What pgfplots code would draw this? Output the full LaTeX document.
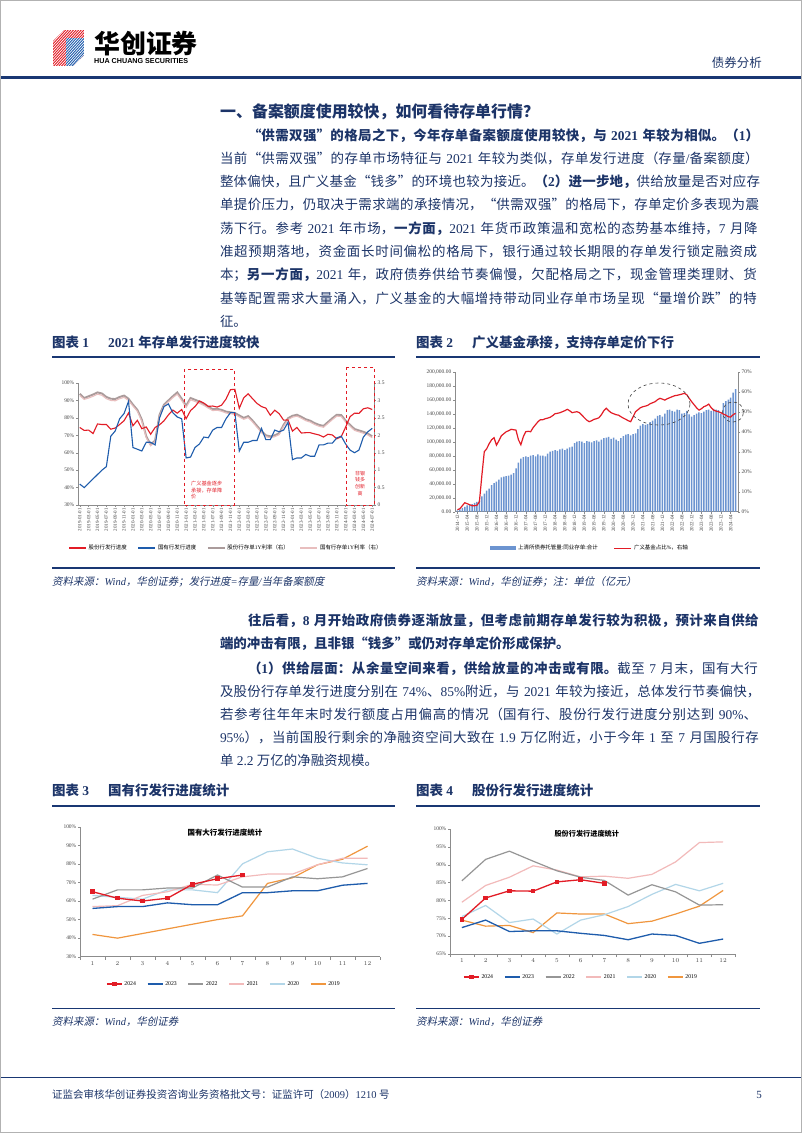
\documentclass[border=0pt]{standalone}
\usepackage{fontspec}
\setmainfont{Liberation Serif}
\newfontfamily\cjk{Noto Sans CJK SC}[AutoFakeSlant=0.2]
\newfontfamily\lsans{Liberation Sans}
\usepackage{pgfplots}
\pgfplotsset{compat=1.18}
\usepackage{pgfplotstable}

% automatic switching between Latin and CJK fonts
\XeTeXinterchartokenstate=1
\newXeTeXintercharclass\CJKc
\newcount\cjkcnt
\def\cjkrange#1#2{\cjkcnt=#1\relax\loop\XeTeXcharclass\cjkcnt=\CJKc\relax\ifnum\cjkcnt<#2\relax\advance\cjkcnt by 1\relax\repeat}
\cjkrange{"4E00}{"9FFF}
\cjkrange{"3000}{"303F}
\cjkrange{"FF00}{"FFEF}
\cjkrange{"2018}{"201D}
\XeTeXinterchartoks 0 \CJKc = {\cjk}
\XeTeXinterchartoks 4095 \CJKc = {\cjk}
\XeTeXinterchartoks \CJKc 0 = {\rmfamily}
\XeTeXinterchartoks \CJKc 4095 = {\rmfamily}
\XeTeXlinebreaklocale "zh"
\XeTeXlinebreakskip=0pt plus 4pt

\definecolor{tb}{RGB}{28,52,104}
\definecolor{rulec}{RGB}{25,55,115}
\definecolor{cred}{RGB}{226,28,38}
\definecolor{cblue}{RGB}{30,92,172}
\definecolor{cgray}{RGB}{170,155,155}
\definecolor{cpink}{RGB}{232,190,190}
\definecolor{c22}{RGB}{150,150,150}
\definecolor{c21}{RGB}{242,186,186}
\definecolor{c20}{RGB}{178,214,232}
\definecolor{c19}{RGB}{240,150,62}
\definecolor{cbar}{RGB}{108,148,208}
\definecolor{axg}{RGB}{140,140,140}
\definecolor{lblg}{RGB}{70,70,70}

\pgfplotstableread{
m blue red gray pink
0 42 74.5 3.19 3.14
1 40 72.8 3.07 3.03
2 42.5 73 3.12 3.07
3 45 71 3.17 3.12
4 47.5 76.5 3.23 3.18
5 50 76.2 3.20 3.15
6 52 76.2 3.10 3.05
7 69.5 73.5 3.05 3.00
8 72.5 74.2 3.04 2.99
9 79.5 76.2 3.10 3.05
10 82.5 78.4 3.14 3.09
11 89.5 82.8 3.05 3.00
12 63 75.5 2.88 2.84
13 62 78.6 2.73 2.69
14 61 73.8 2.45 2.40
15 66 74.8 1.97 1.93
16 66 70.6 1.73 1.70
17 64.5 74.5 1.85 1.82
18 80 76 2.59 2.55
19 86.5 78.3 2.88 2.84
20 88 81.7 3.00 2.96
21 83 84.5 3.12 3.08
22 80.5 82.7 3.23 3.18
23 79.5 84.8 3.05 3.00
24 57 79.5 2.85 2.80
25 57.5 84.2 3.07 3.02
26 63 86.5 3.02 2.97
27 65 89.7 2.97 2.92
28 69 88.5 2.90 2.86
29 68.6 86.6 2.82 2.78
30 73 86.8 2.75 2.71
31 74.5 86.2 2.76 2.72
32 74.5 87.3 2.73 2.69
33 79.5 90.8 2.68 2.64
34 83 96.2 2.66 2.62
35 83 96.4 2.64 2.60
36 61 85.5 2.57 2.53
37 66 91.5 2.50 2.46
38 66 93.8 2.55 2.51
39 67 91 2.42 2.38
40 67 88.3 2.27 2.23
41 74 86.5 2.12 2.08
42 67.5 85.6 2.00 1.96
43 67.5 81.5 1.97 1.93
44 73 84.4 2.00 1.96
45 72 82.4 2.06 2.02
46 73 78.7 2.30 2.26
47 77.5 78.8 2.49 2.45
48 56 72.4 2.56 2.52
49 57 74.5 2.59 2.55
50 57 71.3 2.53 2.49
51 59 71.5 2.46 2.42
52 58 71.5 2.42 2.38
53 58 70.8 2.35 2.31
54 64.5 70.2 2.30 2.26
55 64.5 69 2.27 2.23
56 65.5 70.6 2.38 2.34
57 65.5 70.2 2.49 2.45
58 68.5 68 2.59 2.55
59 69.5 69.2 2.58 2.54
60 65 74.7 2.42 2.38
61 61.5 80.7 2.30 2.26
62 60 82.7 2.18 2.14
63 61.5 82.6 2.14 2.10
64 69 85.2 2.10 2.06
65 72 85.8 2.05 2.01
66 74 84.8 1.97 1.93
}\tabA

\pgfplotstableread{
m bar red
0 2000 1
1 3500 1.5
2 5500 3
3 7000 4.5
4 9000 4
5 10000 3.5
6 11000 3
7 12500 3
8 14000 3.2
9 16000 5
10 22000 18
11 26000 30
12 30000 31.5
13 33000 34
14 38000 36
15 41000 37
16 43000 33.3
17 46000 35.5
18 49000 38
19 50000 39
20 51000 40
21 51500 40.5
22 53000 41.2
23 55000 41
24 62000 40.8
25 70000 36
26 76000 33.5
27 78000 37.5
28 79000 40
29 78000 40.2
30 80000 40
31 81000 42
32 79000 43.5
33 82000 45
34 80000 46
35 80000 46
36 79000 46.5
37 83000 46.8
38 86000 47.2
39 87000 48
40 88000 49
41 87000 49.2
42 89000 49.5
43 90000 50
44 88000 50.5
45 90000 51.2
46 92000 50.5
47 93000 49.5
48 98000 49.8
49 100000 50
50 101000 49.5
51 100000 48.3
52 98000 47
53 101000 45.8
54 100000 45
55 99000 45.5
56 101000 46.2
57 102000 46.5
58 100000 47
59 103000 48.5
60 105000 50.5
61 106000 51.7
62 107000 50.5
63 104000 49.5
64 106000 49
65 103000 48.5
66 101000 48.3
67 105000 47.5
68 108000 46.8
69 110000 46.2
70 111000 45.5
71 109000 45
72 111000 47.5
73 112000 50
74 118000 51
75 123000 52
76 125000 52.5
77 124000 52.8
78 125000 53.2
79 128000 54
80 130000 54.5
81 133000 55
82 137000 56
83 138000 56.7
84 136000 56.3
85 140000 55.8
86 145000 56.5
87 146000 57
88 144000 57.5
89 143000 58
90 146000 58.2
91 145000 58.5
92 140000 58.8
93 141000 59.2
94 144000 58.5
95 139000 56.7
96 136000 55
97 138000 53.5
98 140000 52
99 142000 50.8
100 141000 51.5
101 143000 52.5
102 145000 53
103 146000 53.8
104 144000 52
105 147000 50.8
106 146000 50.3
107 145000 50
108 140000 49.5
109 155000 48.8
110 158000 48.3
111 160000 47.5
112 163000 47.3
113 170000 48.5
114 175000 49.2
}\tabB

\pgfplotsset{
  rpt/.style={scale only axis, anchor=south west,
    axis line style={axg,line width=0.5bp},
    tick style={axg,line width=0.4bp}, major tick length=2bp, tick align=outside,
    tick label style={text=lblg}},
  yrsmall/.style={y tick label style={font=\fontsize{5.5}{6}\selectfont, inner sep=1.5bp}},
  linelegend/.style={legend image code/.code={\draw[##1] (0bp,0bp) -- (17bp,0bp);}},
  mlegend/.style={legend image code/.code={\draw[mark repeat=2,mark phase=2,##1] plot coordinates {(0bp,0bp) (7.5bp,0bp) (15bp,0bp)};}},
}

\newcommand\JL[4]{\node[anchor=base west,inner sep=0pt,outer sep=0pt,text=tb,font=\fontsize{13.5}{16}\selectfont,text width=#3bp] at (#1,-#2) {\noindent\tolerance=9999\parfillskip=0pt\relax #4\par};}
\newcommand\PL[3]{\node[anchor=base west,inner sep=0pt,outer sep=0pt,text=tb,font=\fontsize{13.5}{16}\selectfont] at (#1,-#2) {#3};}

\begin{document}
\begin{tikzpicture}[x=1bp,y=1bp]
\useasboundingbox (0,0) rectangle (802,-1133);
\fill[white] (0,0) rectangle (802,-1133);
\draw[gray!60,line width=1bp] (0.5,-0.5) rectangle (801.5,-1132.5);

% ---------- header ----------
\begin{scope}
\clip (53,-41) -- (64,-30) -- (84,-30) -- (84,-55) -- (73,-66) -- (53,-66) -- cycle;
\fill[cred] (53,-30) rectangle (84,-66);
\fill[cblue] (66,-38) -- (84,-38) -- (84,-66) -- (66,-66) -- cycle;
\foreach \k in {0,2.6,...,62} {\draw[white,line width=0.7bp] (28+\k,-70) -- (68+\k,-26);}
\end{scope}
\node[anchor=west,inner sep=0,font=\fontsize{26}{26}\selectfont\bfseries] at (94,-44) {华创证券};
\node[anchor=west,inner sep=0,font=\fontsize{7.2}{8}\lsans\bfseries] at (94,-61.5) {HUA CHUANG SECURITIES};
\node[anchor=east,inner sep=0,text=tb,font=\fontsize{12.5}{13}\selectfont] at (762,-63) {债券分析};
\fill[rulec] (1,-76) rectangle (801,-78.5);

% ---------- section 1 text ----------
\node[anchor=base west,inner sep=0,text=tb,font=\fontsize{16}{18}\selectfont\bfseries] at (220,-117) {一、备案额度使用较快，如何看待存单行情？};
\JL{248}{140}{514}{\bfseries “供需双强”的格局之下，今年存单备案额度使用较快，与 2021 年较为相似。（1）}
\JL{220}{163.3}{542}{当前“供需双强”的存单市场特征与 2021 年较为类似，存单发行进度（存量/备案额度）}
\JL{220}{186.6}{542}{整体偏快，且广义基金“钱多”的环境也较为接近。{\bfseries （2）进一步地，}\cjk 供给放量是否对应存}
\JL{220}{209.9}{542}{单提价压力，仍取决于需求端的承接情况，“供需双强”的格局下，存单定价多表现为震}
\JL{220}{233.2}{542}{荡下行。参考 2021 年市场，{\bfseries 一方面，}2021 年货币政策温和宽松的态势基本维持，7 月降}
\JL{220}{256.5}{542}{准超预期落地，资金面长时间偏松的格局下，银行通过较长期限的存单发行锁定融资成}
\JL{220}{279.8}{542}{本；{\bfseries 另一方面，}2021 年，政府债券供给节奏偏慢，欠配格局之下，现金管理类理财、货}
\JL{220}{303.1}{542}{基等配置需求大量涌入，广义基金的大幅增持带动同业存单市场呈现“量增价跌”的特}
\PL{220}{326.4}{征。}

% ---------- figure titles ----------
\begin{scope}[every node/.style={anchor=base west,inner sep=0,text=tb,font=\fontsize{13.5}{15}\selectfont\bfseries}]
\node at (52,-347.5) {图表 1};
\node at (108,-347.5) {2021 年存单发行进度较快};
\node at (416,-347.5) {图表 2};
\node at (472,-347.5) {广义基金承接，支持存单定价下行};
\node at (52,-795) {图表 3};
\node at (108,-795) {国有行发行进度统计};
\node at (416,-795) {图表 4};
\node at (472,-795) {股份行发行进度统计};
\end{scope}
\fill[rulec] (52,-356) rectangle (395,-357.5);
\fill[rulec] (416,-356) rectangle (760,-357.5);
\fill[rulec] (52,-567) rectangle (395,-568.5);
\fill[rulec] (416,-567) rectangle (760,-568.5);
\fill[rulec] (52,-805) rectangle (395,-806.5);
\fill[rulec] (416,-805) rectangle (760,-806.5);
\fill[rulec] (52,-1007.5) rectangle (395,-1009);
\fill[rulec] (416,-1007.5) rectangle (760,-1009);

\begin{scope}[every node/.style={anchor=base west,inner sep=0,text=tb,font=\fontsize{10.5}{12}\selectfont\itshape}]
\node at (52,-585.7) {资料来源：Wind，华创证券；发行进度=存量/当年备案额度};
\node at (416,-585.7) {资料来源：Wind，华创证券；注：单位（亿元）};
\node at (52,-1025.7) {资料来源：Wind，华创证券};
\node at (416,-1025.7) {资料来源：Wind，华创证券};
\end{scope}

% ---------- chart 1 ----------
\begin{axis}[rpt, yrsmall, at={(78bp,-505bp)}, width=296bp, height=122bp,
  xmin=-0.4, xmax=66.4, ymin=0, ymax=3.5,
  axis y line*=right, axis x line=none,
  ytick={0,0.5,1,1.5,2,2.5,3,3.5}, yticklabels={0,0.5,1,1.5,2,2.5,3,3.5}]
\addplot[cgray, line width=1.9bp] table[x=m,y=gray]{\tabA};
\addplot[cpink, line width=1.1bp] table[x=m,y=pink]{\tabA};
\end{axis}
\begin{axis}[rpt, yrsmall, linelegend, at={(78bp,-505bp)}, width=296bp, height=122bp,
  xmin=-0.4, xmax=66.4, ymin=30, ymax=100,
  axis y line*=left, axis x line*=bottom,
  ytick={30,40,...,100}, yticklabels={30\%,40\%,50\%,60\%,70\%,80\%,90\%,100\%},
  xtick={0,2,...,66},
  xticklabels={2019-01-01,2019-03-01,2019-05-01,2019-07-01,2019-09-01,2019-11-01,2020-01-01,2020-03-01,2020-05-01,2020-07-01,2020-09-01,2020-11-01,2021-01-01,2021-03-01,2021-05-01,2021-07-01,2021-09-01,2021-11-01,2022-01-01,2022-03-01,2022-05-01,2022-07-01,2022-09-01,2022-11-01,2023-01-01,2023-03-01,2023-05-01,2023-07-01,2023-09-01,2023-11-01,2024-01-01,2024-03-01,2024-05-01,2024-07-01},
  x tick label style={rotate=90, anchor=east, font=\fontsize{5}{5}\selectfont, inner sep=1bp},
  legend style={at={(axis description cs:0.5,-0.352)}, anchor=center, draw=none, fill=none,
    font=\fontsize{5.5}{6}\selectfont, legend columns=4, inner sep=0pt,
    /tikz/every even column/.append style={column sep=9bp}},
  legend cell align=left]
\addplot[cred, line width=1.1bp] table[x=m,y=red]{\tabA};
\addlegendentry{股份行发行进度}
\addplot[cblue, line width=1.1bp] table[x=m,y=blue]{\tabA};
\addlegendentry{国有行发行进度}
\addlegendimage{cgray, line width=1.1bp}
\addlegendentry{股份行存单1Y利率（右）}
\addlegendimage{cpink, line width=1.1bp}
\addlegendentry{国有行存单1Y利率（右）}
\end{axis}
\draw[cred, dashed, line width=0.9bp] (184,-369) rectangle (234,-505);
\draw[cred, dashed, line width=0.9bp] (346,-367) rectangle (374,-505);
\node[anchor=north west, inner sep=0, text=cred, font=\fontsize{5.2}{6.6}\selectfont, align=left] at (191,-481) {广义基金逐步\\承接，存单降\\价};
\node[anchor=north, inner sep=0, text=cred, font=\fontsize{5}{6.6}\selectfont, align=center] at (360,-471) {非银\\钱多\\创新\\高};

% ---------- chart 2 ----------
\begin{axis}[rpt, yrsmall, at={(455bp,-511.7bp)}, width=283bp, height=140bp,
  xmin=-1, xmax=115, ymin=0, ymax=200000, scaled y ticks=false,
  ybar, bar width=1.5bp,
  axis y line*=left, axis x line*=bottom,
  ytick={0,20000,40000,60000,80000,100000,120000,140000,160000,180000,200000},
  yticklabels={0.00,{20,000.00},{40,000.00},{60,000.00},{80,000.00},{100,000.00},{120,000.00},{140,000.00},{160,000.00},{180,000.00},{200,000.00}},
  xtick={0,4,...,112},
  xticklabels={2014-12,2015-04,2015-08,2015-12,2016-04,2016-08,2016-12,2017-04,2017-08,2017-12,2018-04,2018-08,2018-12,2019-04,2019-08,2019-12,2020-04,2020-08,2020-12,2021-04,2021-08,2021-12,2022-04,2022-08,2022-12,2023-04,2023-08,2023-12,2024-04},
  x tick label style={rotate=90, anchor=east, font=\fontsize{5}{5}\selectfont, inner sep=1bp},
  legend style={at={(axis description cs:0.477,-0.26)}, anchor=center, draw=none, fill=none,
    font=\fontsize{5.5}{6}\selectfont, legend columns=2, inner sep=0pt,
    /tikz/every even column/.append style={column sep=14bp}},
  legend cell align=left]
\addplot[fill=cbar, draw=none, bar shift=0pt,
  legend image code/.code={\fill[cbar] (0bp,-2bp) rectangle (26bp,2bp);}] table[x=m,y=bar]{\tabB};
\addlegendentry{上清所债券托管量:同业存单:合计}
\addlegendimage{cred, line width=1.2bp, line legend, legend image code/.code={\draw[cred,line width=1.2bp] (0bp,0bp) -- (17bp,0bp);}}
\addlegendentry{广义基金占比\%，右轴}
\end{axis}
\begin{axis}[rpt, yrsmall, at={(455bp,-511.7bp)}, width=283bp, height=140bp,
  xmin=-1, xmax=115, ymin=0, ymax=70,
  axis y line*=right, axis x line=none,
  ytick={0,10,...,70}, yticklabels={0\%,10\%,20\%,30\%,40\%,50\%,60\%,70\%}]
\addplot[cred, line width=1.2bp] table[x=m,y=red]{\tabB};
\end{axis}
\draw[dashed, black!75, line width=0.6bp] (659,-404) ellipse [x radius=31, y radius=21];
\draw[dashed, black!75, line width=0.6bp] (733,-412) ellipse [x radius=10.5, y radius=10];

% ---------- section 2 text ----------
\JL{248}{625}{514}{\bfseries 往后看，8 月开始政府债券逐渐放量，但考虑前期存单发行较为积极，预计来自供给}
\PL{220}{648}{\bfseries 端的冲击有限，且非银“钱多”或仍对存单定价形成保护。}
\JL{248}{673}{514}{{\bfseries （1）供给层面：从余量空间来看，供给放量的冲击或有限。}\cjk 截至 7 月末，国有大行}
\JL{220}{696}{542}{及股份行存单发行进度分别在 74\%、85\%附近，与 2021 年较为接近，总体发行节奏偏快，}
\JL{220}{719}{542}{若参考往年年末时发行额度占用偏高的情况（国有行、股份行发行进度分别达到 90\%、}
\JL{220}{742}{542}{95\%），当前国股行剩余的净融资空间大致在 1.9 万亿附近，小于今年 1 至 7 月国股行存}
\PL{220}{765}{单 2.2 万亿的净融资规模。}

% ---------- chart 3 ----------
\begin{axis}[rpt, yrsmall, mlegend, at={(80bp,-956.7bp)}, width=300bp, height=130bp,
  xmin=0.5, xmax=12.5, ymin=30, ymax=100,
  axis y line*=left, axis x line*=bottom,
  ytick={30,40,...,100}, yticklabels={30\%,40\%,50\%,60\%,70\%,80\%,90\%,100\%},
  xtick={1,...,12}, major x tick style={draw=none},
  minor xtick={0.5,1.5,...,12.5}, minor tick length=3bp,
  x tick label style={font=\fontsize{6}{6}\selectfont, inner sep=2.5bp},
  legend style={at={(axis description cs:0.48,-0.21)}, anchor=center, draw=none, fill=none,
    font=\fontsize{5.8}{6}\selectfont, legend columns=6, inner sep=0pt,
    /tikz/every even column/.append style={column sep=9bp}},
  reverse legend, legend cell align=left]
\addplot[c19, line width=1.2bp] coordinates {(1,42)(2,40)(3,42.5)(4,45)(5,47.5)(6,50)(7,52)(8,69.5)(9,72.5)(10,79.5)(11,82.5)(12,89.5)};
\addlegendentry{2019}
\addplot[c20, line width=1.2bp] coordinates {(1,63)(2,62)(3,61)(4,66)(5,66)(6,64.5)(7,80)(8,86.5)(9,88)(10,83)(11,80.5)(12,79.5)};
\addlegendentry{2020}
\addplot[c21, line width=1.2bp] coordinates {(1,57)(2,57.5)(3,63)(4,65)(5,69)(6,68.6)(7,73)(8,74.5)(9,74.5)(10,79.5)(11,83)(12,83)};
\addlegendentry{2021}
\addplot[c22, line width=1.2bp] coordinates {(1,61)(2,66)(3,66)(4,67)(5,67)(6,74)(7,67.5)(8,67.5)(9,73)(10,72)(11,73)(12,77.5)};
\addlegendentry{2022}
\addplot[cblue, line width=1.3bp] coordinates {(1,56)(2,57)(3,57)(4,59)(5,58)(6,58)(7,64.5)(8,64.5)(9,65.5)(10,65.5)(11,68.5)(12,69.5)};
\addlegendentry{2023}
\addplot[cred, line width=1.3bp, mark=square*, mark size=1.6bp, mark options={fill=cred,draw=cred}] coordinates {(1,65)(2,61.5)(3,60)(4,61.5)(5,69)(6,72)(7,74)};
\addlegendentry{2024}
\node[font=\fontsize{7.5}{8}\selectfont\bfseries, text=black] at (axis description cs:0.483,0.955) {国有大行发行进度统计};
\end{axis}

% ---------- chart 4 ----------
\begin{axis}[rpt, yrsmall, mlegend, at={(450bp,-954bp)}, width=285bp, height=125bp,
  xmin=0.5, xmax=12.5, ymin=65, ymax=100,
  axis y line*=left, axis x line*=bottom,
  ytick={65,70,...,100}, yticklabels={65\%,70\%,75\%,80\%,85\%,90\%,95\%,100\%},
  xtick={1,...,12}, major x tick style={draw=none},
  minor xtick={0.5,1.5,...,12.5}, minor tick length=3bp,
  x tick label style={font=\fontsize{6}{6}\selectfont, inner sep=2.5bp},
  legend style={at={(axis description cs:0.46,-0.184)}, anchor=center, draw=none, fill=none,
    font=\fontsize{5.8}{6}\selectfont, legend columns=6, inner sep=0pt,
    /tikz/every even column/.append style={column sep=9bp}},
  reverse legend, legend cell align=left]
\addplot[c19, line width=1.2bp] coordinates {(1,74.5)(2,72.8)(3,73)(4,71)(5,76.5)(6,76.2)(7,76.2)(8,73.5)(9,74.2)(10,76.2)(11,78.4)(12,82.8)};
\addlegendentry{2019}
\addplot[c20, line width=1.2bp] coordinates {(1,75.5)(2,78.6)(3,73.8)(4,74.8)(5,70.6)(6,74.5)(7,76)(8,78.3)(9,81.7)(10,84.5)(11,82.7)(12,84.8)};
\addlegendentry{2020}
\addplot[c21, line width=1.2bp] coordinates {(1,79.5)(2,84.2)(3,86.5)(4,89.7)(5,88.5)(6,86.6)(7,86.8)(8,86.2)(9,87.3)(10,90.8)(11,96.2)(12,96.4)};
\addlegendentry{2021}
\addplot[c22, line width=1.2bp] coordinates {(1,85.5)(2,91.5)(3,93.8)(4,91)(5,88.3)(6,86.5)(7,85.6)(8,81.5)(9,84.4)(10,82.4)(11,78.7)(12,78.8)};
\addlegendentry{2022}
\addplot[cblue, line width=1.3bp] coordinates {(1,72.4)(2,74.5)(3,71.3)(4,71.5)(5,71.5)(6,70.8)(7,70.2)(8,69)(9,70.6)(10,70.2)(11,68)(12,69.2)};
\addlegendentry{2023}
\addplot[cred, line width=1.3bp, mark=square*, mark size=1.6bp, mark options={fill=cred,draw=cred}] coordinates {(1,74.7)(2,80.7)(3,82.7)(4,82.6)(5,85.2)(6,85.8)(7,84.8)};
\addlegendentry{2024}
\node[font=\fontsize{7.2}{8}\selectfont\bfseries, text=black] at (axis description cs:0.48,0.96) {股份行发行进度统计};
\end{axis}

% ---------- footer ----------
\fill[rulec] (1,-1076.5) rectangle (801,-1078);
\node[anchor=base west,inner sep=0,text=tb,font=\fontsize{10.5}{12}\selectfont] at (52,-1098) {证监会审核华创证券投资咨询业务资格批文号：证监许可（2009）1210 号};
\node[anchor=base east,inner sep=0,text=tb,font=\fontsize{11}{12}\selectfont] at (762,-1098) {5};
\end{tikzpicture}
\end{document}
